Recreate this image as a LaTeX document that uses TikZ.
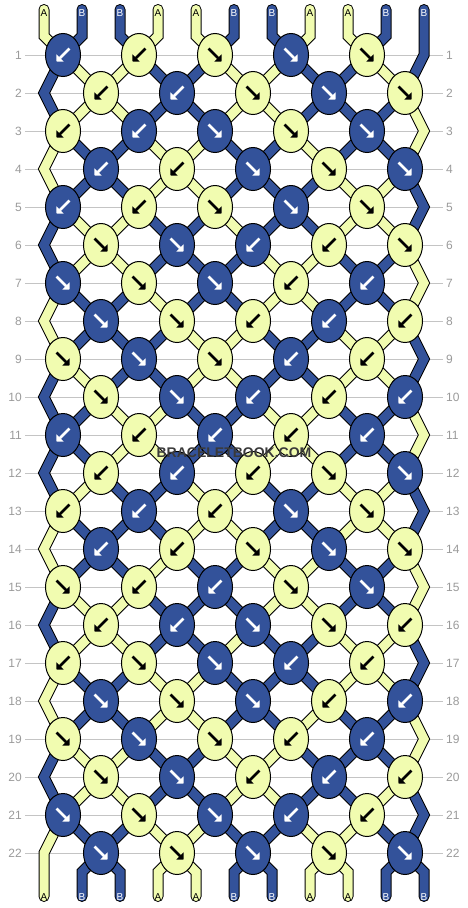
\documentclass[tikz,border=0pt]{standalone}
\usepackage{fontspec}
\setmainfont{Liberation Sans}
\usetikzlibrary{shapes.geometric,arrows.meta,backgrounds}
\definecolor{strA}{HTML}{F1FCB0}
\definecolor{strB}{HTML}{33529A}
\colorlet{inkA}{black}
\colorlet{inkB}{white}
\definecolor{rowgray}{HTML}{9A9A9A}
\definecolor{linegray}{HTML}{C4C4C4}
\definecolor{markgray}{HTML}{3A3A3A}

\begin{document}
\begin{tikzpicture}[x=1pt,y=-1pt,
  knot/.style={ellipse,draw=black,line width=1pt,fill=#1,minimum width=35pt,minimum height=43pt,inner sep=0pt},
  strand/.style={draw=black,line width=1pt,double=#1,double distance=9pt,line cap=round},
  pointer/.style={draw=#1,line width=2.5pt,-{Triangle[width=10pt,length=5pt]}},
  fw/.style={},
  bk/.style={xscale=-1},
  rowno/.style={text=rowgray,font=\fontsize{12}{12}\selectfont,inner sep=3pt},
  tag/.style={text=#1,font=\fontsize{10}{10}\selectfont,inner sep=0pt},
  rowline/.style={draw=linegray,line width=0.8pt}]
\useasboundingbox (0,0) rectangle (468,908);

% row numbers
\foreach \row in {1,...,22}{
  \node[rowno,anchor=east] (l\row) at (25,{55+38*(\row-1)}) {\row};
  \node[rowno,anchor=west] (r\row) at (443,{55+38*(\row-1)}) {\row};
}

% strand ends and letters
\foreach \s/\col in {0/A,1/B,2/B,3/A,4/A,5/B,6/B,7/A,8/A,9/B,10/B}{
  \coordinate (top\s) at ({44+38*\s},9.5);
  \coordinate (in\s) at ({44+38*\s},36);
  \coordinate (out\s) at ({44+38*\s},872);
  \coordinate (bot\s) at ({44+38*\s},896.5);
  \node[tag=ink\col] (a\s) at ({44+38*\s},13) {\col};
  \node[tag=ink\col] (z\s) at ({44+38*\s},897) {\col};
}

% turns at the edges
\foreach \row in {1,3,...,21} \coordinate (k\row-11) at (424,{55+38*(\row-1)});
\foreach \row in {2,4,...,22} \coordinate (k\row-0) at (44,{55+38*(\row-1)});

% knots
\foreach \row/\knots in {
  1/{bk/B,bk/A,fw/A,fw/B,fw/A},
  2/{bk/A,bk/B,fw/A,fw/B,fw/A},
  3/{bk/A,bk/B,fw/B,fw/A,fw/B},
  4/{bk/B,bk/A,fw/B,fw/A,fw/B},
  5/{bk/B,bk/A,fw/A,fw/B,fw/A},
  6/{fw/A,fw/B,bk/B,bk/A,fw/A},
  7/{fw/B,fw/A,fw/B,bk/A,bk/B},
  8/{fw/B,fw/A,bk/A,bk/B,bk/A},
  9/{fw/A,fw/B,fw/A,bk/B,bk/A},
  10/{fw/A,fw/B,bk/B,bk/A,bk/B},
  11/{bk/B,bk/A,bk/B,bk/A,bk/B},
  12/{bk/A,bk/B,bk/A,fw/A,fw/B},
  13/{bk/A,bk/B,bk/A,fw/B,fw/A},
  14/{bk/B,bk/A,fw/A,fw/B,fw/A},
  15/{fw/A,bk/A,bk/B,fw/A,fw/B},
  16/{bk/A,bk/B,fw/B,fw/A,bk/A},
  17/{bk/A,fw/A,fw/B,bk/B,bk/A},
  18/{fw/B,fw/A,fw/B,bk/A,bk/B},
  19/{fw/A,fw/B,fw/A,bk/A,bk/B},
  20/{fw/A,fw/B,bk/A,bk/B,bk/A},
  21/{fw/B,fw/A,fw/B,bk/B,bk/A},
  22/{fw/B,fw/A,fw/B,fw/A,fw/B}}{
  \foreach \dir/\col [count=\j] in \knots{
    \pgfmathtruncatemacro\kc{2*\j-mod(\row,2)}
    \node[knot=str\col] (k\row-\kc) at ({25+38*\kc},{55+38*(\row-1)}) {};
    \draw[pointer=ink\col,shift={(k\row-\kc.center)},\dir] (-6.5,-6.5) -- (6.5,6.5);
  }
}

\node[font=\fontsize{14}{14}\selectfont\bfseries,text=markgray] (mark) at (234,453) {BRACELETBOOK.COM};

\begin{pgfonlayer}{background}
  \foreach \row in {1,...,22} \draw[rowline] (l\row.east) -- (r\row.west);
  % every strand swaps side at each knot
  \foreach \s/\col in {0/A,1/B,2/B,3/A,4/A,5/B,6/B,7/A,8/A,9/B,10/B}{
    \xdef\strpos{\s}
    \xdef\route{(top\s) -- (in\s)}
    \foreach \row in {1,...,22}{
      \pgfmathtruncatemacro\kc{\strpos+mod(\strpos+\row,2)}
      \pgfmathtruncatemacro\nextpos{max(0,min(10,2*\kc-1-\strpos))}
      \xdef\route{\route -- (k\row-\kc.center)}
      \xdef\strpos{\nextpos}
    }
    \xdef\route{\route -- (out\strpos) -- (bot\strpos)}
    \draw[strand=str\col] \route;
  }
\end{pgfonlayer}
\end{tikzpicture}
\end{document}
